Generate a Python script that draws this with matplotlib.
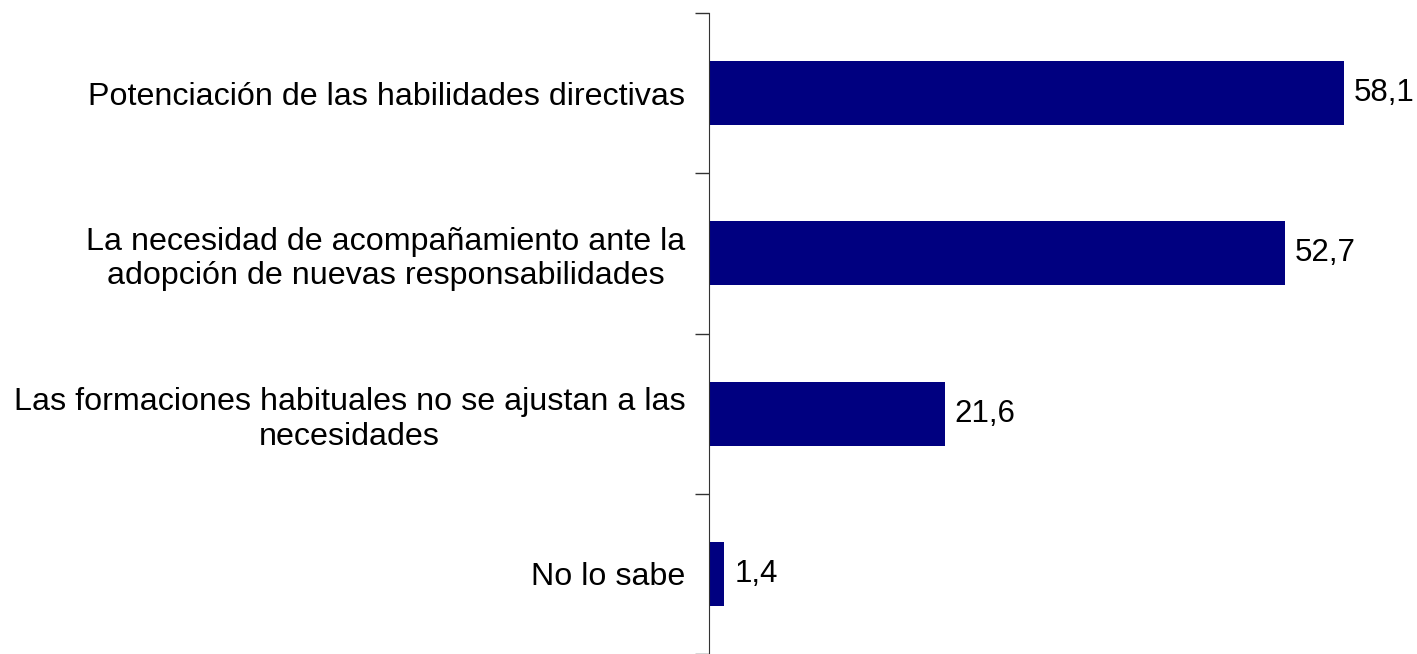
import matplotlib
matplotlib.use("Agg")
import matplotlib.pyplot as plt

categories = [
    "Potenciación de las habilidades directivas",
    "La necesidad de acompañamiento ante la\nadopción de nuevas responsabilidades",
    "Las formaciones habituales no se ajustan a las\nnecesidades",
    "No lo sabe",
]
values = [58.1, 52.7, 21.6, 1.4]
value_labels = ["58,1", "52,7", "21,6", "1,4"]

plt.rcParams['font.family'] = ['Liberation Sans', 'DejaVu Sans']

fig = plt.figure(figsize=(14.17, 6.54), dpi=100)
ax = fig.add_axes([709/1417, 0.0, 1 - 709/1417, 1 - 13/654])

y = list(range(len(categories)))
ax.barh(y, values, height=0.4, color='#000080')
ax.set_ylim(len(categories) - 0.5, -0.5)
ax.set_xlim(0, 64.8)

for yi, v, lab in zip(y, values, value_labels):
    ax.text(v + 0.9, yi, lab, va='center', ha='left', fontsize=22.5)

ax.set_yticks([i + 0.5 for i in range(-1, len(categories))])
ax.set_yticklabels([])
ax.set_yticks(y, minor=True)
ax.set_yticklabels(categories, minor=True, fontsize=23.2, multialignment='center',
                   linespacing=1.2)
ax.tick_params(axis='y', which='major', length=10, direction='out', width=1, color='#333333')
ax.tick_params(axis='y', which='minor', length=0, pad=17)
ax.set_xticks([])
for s in ['top', 'right', 'bottom']:
    ax.spines[s].set_visible(False)
ax.spines['left'].set_color('#333333')

fig.savefig("out.png", dpi=100)
